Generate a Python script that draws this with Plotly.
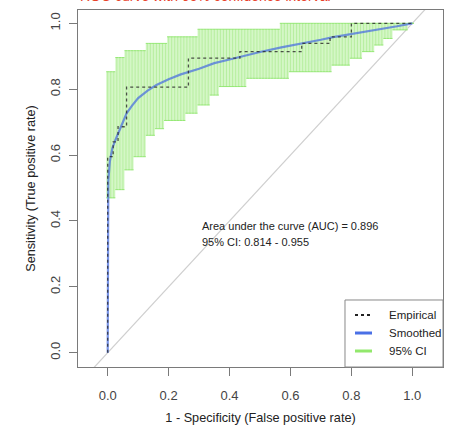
import plotly.graph_objects as go

# ---------------- data ----------------
# Empirical ROC corner points (1 - specificity, sensitivity), drawn as vertical-then-horizontal steps
emp_fpr = [0.0, 0.018, 0.034, 0.062, 0.265, 0.434, 0.637, 0.73, 0.80, 1.0]
emp_tpr = [0.0, 0.595, 0.64, 0.686, 0.806, 0.894, 0.914, 0.939, 0.959, 1.0]

# Smoothed (binormal) ROC curve read along its path
smooth_fpr = [0.0, 0.0, 0.002, 0.007, 0.015, 0.025, 0.034, 0.045, 0.062, 0.08, 0.10, 0.13,
              0.16, 0.20, 0.24, 0.30, 0.35, 0.40, 0.46, 0.50, 0.57, 0.60, 0.70, 0.74,
              0.80, 0.90, 0.95, 1.0]
smooth_tpr = [0.0, 0.46, 0.52, 0.58, 0.62, 0.645, 0.665, 0.69, 0.727, 0.75, 0.773, 0.795,
              0.813, 0.83, 0.845, 0.862, 0.879, 0.89, 0.905, 0.913, 0.927, 0.932, 0.95, 0.958,
              0.967, 0.982, 0.991, 1.0]

# 95% CI of sensitivity: step envelopes (start of step in FPR, value)
ci_upper_breaks = [0.00, 0.03, 0.06, 0.13, 0.20, 0.30, 0.57]
ci_upper_values = [0.853, 0.896, 0.917, 0.939, 0.959, 0.982, 1.0]
ci_lower_breaks = [0.00, 0.03, 0.06, 0.09, 0.13, 0.16, 0.19, 0.26, 0.30, 0.34, 0.37,
                   0.46, 0.60, 0.74, 0.80, 0.84, 0.88, 0.91, 0.94, 0.99]
ci_lower_values = [0.47, 0.495, 0.555, 0.595, 0.66, 0.68, 0.705, 0.727, 0.752, 0.782, 0.808,
                   0.833, 0.853, 0.873, 0.894, 0.914, 0.934, 0.954, 0.98, 1.0]
# FPR grid at which the CI bars are drawn
ci_grid = [i / 100 for i in range(101)]

# chance line
diag = [-0.2, 1.2]

x_ticks = [0.0, 0.2, 0.4, 0.6, 0.8, 1.0]
x_ticklabels = ["0.0", "0.2", "0.4", "0.6", "0.8", "1.0"]
y_ticks = [0.0, 0.2, 0.4, 0.6, 0.8, 1.0]
y_ticklabels = ["0.0", "0.2", "0.4", "0.6", "0.8", "1.0"]

legend_labels = ["Empirical", "Smoothed", "95% CI"]
auc_text = "Area under the curve (AUC) = 0.896"
ci_text = "95% CI: 0.814 - 0.955"
title_text = "ROC curve with 95% confidence interval"


def step_value(breaks, values, x):
    v = values[0]
    for b, val in zip(breaks, values):
        if x >= b - 1e-9:
            v = val
    return v


ci_lo = [step_value(ci_lower_breaks, ci_lower_values, f) for f in ci_grid]
ci_hi = [step_value(ci_upper_breaks, ci_upper_values, f) for f in ci_grid]

half = 0.005
bar_x, bar_y = [], []
wh_x, wh_y = [], []
for f, lo, hi in zip(ci_grid, ci_lo, ci_hi):
    bar_x += [f, f, None]
    bar_y += [lo, hi, None]
    wh_x += [f - half, f + half, None, f - half, f + half, None]
    wh_y += [hi, hi, None, lo, lo, None]
poly_x, poly_y = [], []
for f, hi in zip(ci_grid, ci_hi):
    poly_x += [f - half, f + half]
    poly_y += [hi, hi]
for f, lo in zip(reversed(ci_grid), reversed(ci_lo)):
    poly_x += [f + half, f - half]
    poly_y += [lo, lo]

FONT = "Liberation Sans, Arial, sans-serif"
GREEN = "#92e86c"
BLUE_LEG = "#4a70e6"
BLUE = "rgba(70,108,225,0.72)"

fig = go.Figure()

fig.add_trace(go.Scatter(x=diag, y=diag, mode="lines",
                         line=dict(color="#cfcfcf", width=1.2),
                         hoverinfo="skip", showlegend=False))
fig.add_trace(go.Scatter(x=poly_x, y=poly_y, mode="lines", fill="toself",
                         fillcolor="rgba(205,246,188,0.85)", line=dict(width=0),
                         hoverinfo="skip", showlegend=False))
fig.add_trace(go.Scatter(x=bar_x, y=bar_y, mode="lines",
                         line=dict(color="rgba(160,232,130,0.55)", width=1),
                         hoverinfo="skip", showlegend=False))
fig.add_trace(go.Scatter(x=wh_x, y=wh_y, mode="lines",
                         line=dict(color="rgba(140,230,105,0.9)", width=1),
                         hoverinfo="skip", showlegend=False))
fig.add_trace(go.Scatter(x=smooth_fpr, y=smooth_tpr, mode="lines",
                         line=dict(color=BLUE, width=2.2),
                         hoverinfo="skip", showlegend=False))
fig.add_trace(go.Scatter(x=emp_fpr, y=emp_tpr, mode="lines", line_shape="vh",
                         line=dict(color="rgba(40,40,40,0.8)", width=1.3, dash="dot"),
                         hoverinfo="skip", showlegend=False))

fig.add_annotation(x=0.304, y=0.385, xref="x", yref="y", text=auc_text, showarrow=False,
                   xanchor="left", yanchor="middle",
                   font=dict(family=FONT, size=11, color="#222222"))
fig.add_annotation(x=0.304, y=0.336, xref="x", yref="y", text=ci_text, showarrow=False,
                   xanchor="left", yanchor="middle",
                   font=dict(family=FONT, size=11, color="#222222"))
fig.add_annotation(x=0.348, y=1.011, xref="paper", yref="paper", text=title_text,
                   showarrow=False, xanchor="center", yanchor="bottom",
                   font=dict(family=FONT, size=14, color="#e8402a"))

# manual R-style legend box (paper coordinates)
fig.add_shape(type="rect", xref="paper", yref="paper", x0=0.7315, x1=1.0, y0=0.0, y1=0.1877,
              line=dict(color="#888888", width=1), fillcolor="white", layer="above")
leg_styles = [dict(color="#222222", width=2, dash="dot"),
              dict(color=BLUE_LEG, width=3),
              dict(color=GREEN, width=3)]
leg_y = [0.1457, 0.0952, 0.0448]
for lab, st, yy in zip(legend_labels, leg_styles, leg_y):
    fig.add_shape(type="line", xref="paper", yref="paper", x0=0.7589, x1=0.8055,
                  y0=yy, y1=yy, line=st, layer="above")
    fig.add_annotation(x=0.8466, y=yy, xref="paper", yref="paper", text=lab,
                       showarrow=False, xanchor="left", yanchor="middle",
                       font=dict(family=FONT, size=11.5, color="#222222"))

axis_common = dict(showline=True, mirror=True, linecolor="#7a7a7a", linewidth=1,
                   ticks="outside", ticklen=8, tickcolor="#7a7a7a", tickwidth=1,
                   showgrid=False, zeroline=False, automargin=False,
                   tickfont=dict(family=FONT, size=13, color="#444444"))

fig.update_layout(
    width=451, height=425,
    margin=dict(l=78, r=8, t=10, b=58),
    paper_bgcolor="white", plot_bgcolor="white",
    font=dict(family=FONT, size=12, color="#222222"),
    xaxis=dict(range=[-0.0975, 1.1008], tickvals=x_ticks, ticktext=x_ticklabels,
               ticklabelstandoff=8,
               title=dict(text="1 - Specificity (False positive rate)", standoff=14,
                          font=dict(family=FONT, size=12.7, color="#222222")),
               **axis_common),
    yaxis=dict(range=[-0.0434, 1.0404], tickvals=y_ticks, ticktext=y_ticklabels,
               tickangle=-90, ticklabelstandoff=4,
               title=dict(text="Sensitivity (True positive rate)", standoff=9,
                          font=dict(family=FONT, size=12.7, color="#222222")),
               **axis_common),
    showlegend=False,
)

fig.write_html("out.html", config={"displayModeBar": False},
               post_script="document.body.style.margin='0';")
